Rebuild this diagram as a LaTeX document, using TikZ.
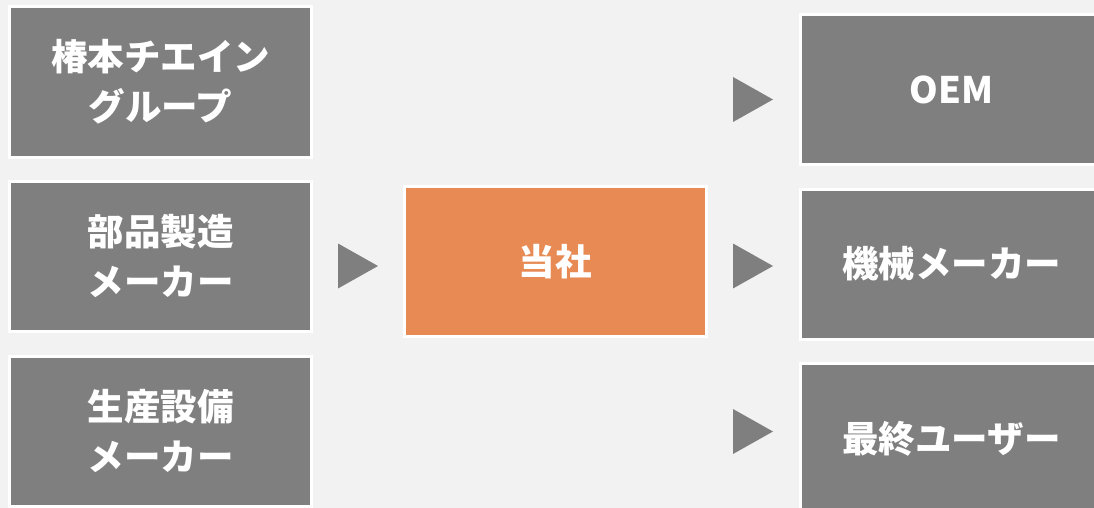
\documentclass[tikz,border=0pt]{standalone}
\usepackage{fontspec}
\newfontfamily\jp{Noto Sans CJK JP}
\definecolor{bg}{HTML}{F2F2F2}
\definecolor{boxgray}{HTML}{7F7F7F}
\definecolor{boxorange}{HTML}{E88A53}
\begin{document}
\begin{tikzpicture}[x=1pt,y=-1pt,
  box/.style={rectangle, fill=boxgray, draw=white, line width=3pt,
    minimum width=302pt, minimum height=150pt, inner sep=0pt,
    align=center, text=white, font=\jp\bfseries\fontsize{36.5}{50}\selectfont},
  mainbox/.style={box, fill=boxorange},
  tri/.style={fill=boxgray}]
\fill[bg] (0,0) rectangle (1094,508);
\clip (0,0) rectangle (1094,508);
\useasboundingbox (0,0) rectangle (1094,508);
% left column
\node[box] (tsubaki) at (160.5,82) {椿本チエイン\\グループ};
\node[box] (buhin) at (160.5,256.5) {部品製造\\メーカー};
\node[box] (seisan) at (160.5,431) {生産設備\\メーカー};
% centre
\node[mainbox] (tosha) at (555,261.5) {当社};
% right column
\node[box] (oem) at (951.5,89.5) {OEM};
\node[box] (kikai) at (951.5,264) {機械メーカー};
\node[box] (user) at (951.5,438.5) {最終ユーザー};
% triangles
\coordinate (t0) at (338,266);
\fill[tri] (t0) ++(0,-22.5) -- ++(40,22.5) -- ++(-40,22.5) -- cycle;
\coordinate (t1) at (733,99.5);
\fill[tri] (t1) ++(0,-22.5) -- ++(40,22.5) -- ++(-40,22.5) -- cycle;
\coordinate (t2) at (733,266);
\fill[tri] (t2) ++(0,-22.5) -- ++(40,22.5) -- ++(-40,22.5) -- cycle;
\coordinate (t3) at (733,431.5);
\fill[tri] (t3) ++(0,-22.5) -- ++(40,22.5) -- ++(-40,22.5) -- cycle;
\end{tikzpicture}
\end{document}
